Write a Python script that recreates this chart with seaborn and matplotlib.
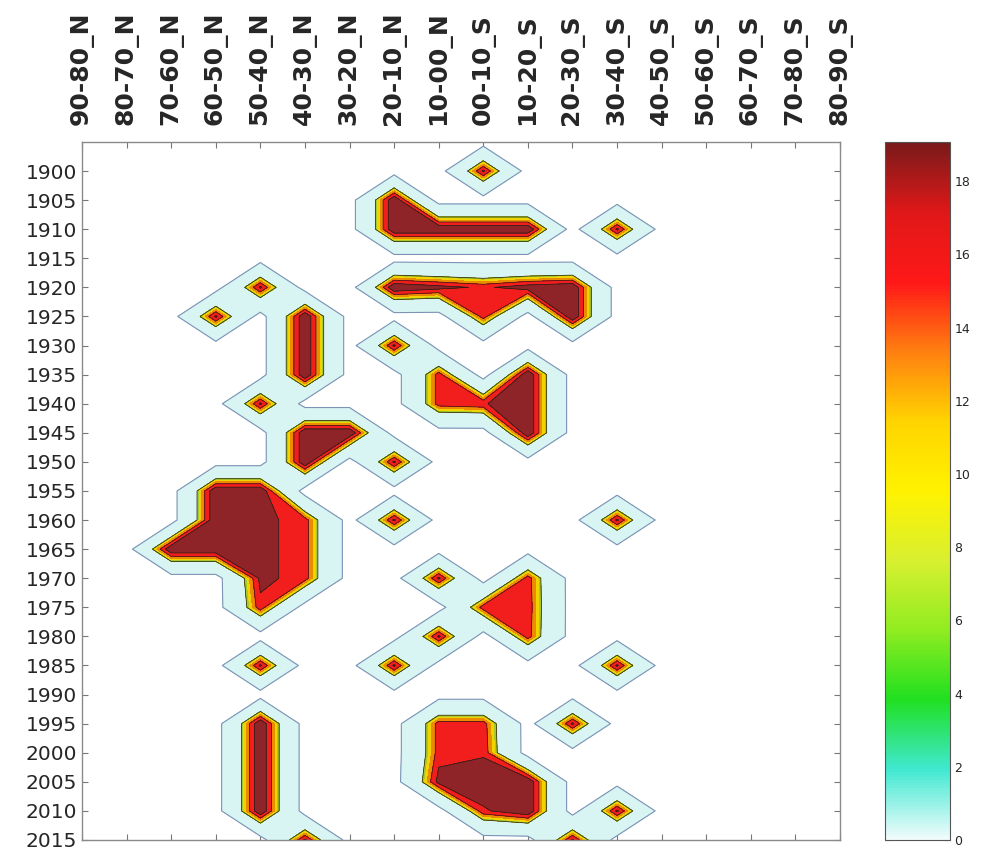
import numpy as np
import matplotlib
matplotlib.use("Agg")
import matplotlib.pyplot as plt
import seaborn as sns

# latitude bands (x) and 5-year bins (y); 1895 is an empty padding row
bands = ["90-80_N", "80-70_N", "70-60_N", "60-50_N", "50-40_N", "40-30_N",
         "30-20_N", "20-10_N", "10-00_N", "00-10_S", "10-20_S", "20-30_S",
         "30-40_S", "40-50_S", "50-60_S", "60-70_S", "70-80_S", "80-90_S"]
years = [1895, 1900, 1905, 1910, 1915, 1920, 1925, 1930, 1935, 1940, 1945, 1950,
         1955, 1960, 1965, 1970, 1975, 1980, 1985, 1990, 1995, 2000, 2005, 2010, 2015]
year_ticks = years[1:]

# non-zero cells (everything else is 0)
event_year = [1900,
              1905, 1910, 1910, 1910, 1910, 1910,
              1920, 1920, 1920, 1920, 1920, 1920, 1925, 1925, 1925, 1925,
              1930, 1930, 1935,
              1935, 1940, 1940, 1935, 1940, 1945, 1940,
              1945, 1945, 1950, 1950,
              1955, 1955, 1960, 1960, 1960, 1965, 1965, 1965, 1965, 1970, 1970, 1975,
              1960, 1960, 1970,
              1970, 1975, 1975, 1980, 1980,
              1985, 1985, 1985,
              1995, 2000, 2005, 2010,
              1995, 1995, 2000, 2000, 2005, 2005, 2005, 2010, 2010,
              1995, 2010, 2015, 2015]
event_band = ["00-10_S",
              "20-10_N", "20-10_N", "10-00_N", "00-10_S", "10-20_S", "30-40_S",
              "50-40_N", "20-10_N", "10-00_N", "00-10_S", "10-20_S", "20-30_S",
              "60-50_N", "40-30_N", "00-10_S", "20-30_S",
              "40-30_N", "20-10_N", "40-30_N",
              "10-00_N", "10-00_N", "00-10_S", "10-20_S", "10-20_S", "10-20_S", "50-40_N",
              "40-30_N", "30-20_N", "40-30_N", "20-10_N",
              "60-50_N", "50-40_N", "60-50_N", "50-40_N", "40-30_N",
              "70-60_N", "60-50_N", "50-40_N", "40-30_N", "50-40_N", "40-30_N", "50-40_N",
              "20-10_N", "30-40_S", "10-00_N",
              "10-20_S", "00-10_S", "10-20_S", "10-20_S", "10-00_N",
              "50-40_N", "20-10_N", "30-40_S",
              "50-40_N", "50-40_N", "50-40_N", "50-40_N",
              "10-00_N", "00-10_S", "10-00_N", "00-10_S", "10-00_N", "00-10_S", "10-20_S",
              "00-10_S", "10-20_S",
              "20-30_S", "30-40_S", "40-30_N", "20-30_S"]
event_value = [17,
               19, 19, 19, 19, 19, 17,
               17, 19, 17.5, 16, 18, 19,
               17, 19, 15.5, 19,
               19, 17, 19,
               15.5, 15.5, 16.2, 19, 19, 19, 17,
               19, 19, 19, 17,
               19, 19, 19, 17.2, 15.5,
               19, 19, 17.2, 15.5, 17.2, 15.5, 15.8,
               17, 17, 17,
               15.5, 15.5, 15.8, 15.5, 17,
               17, 17, 17,
               19, 19, 19, 19,
               15.5, 15.5, 15.5, 16, 17.5, 19, 19,
               16, 19,
               17, 17, 17, 17]

grid = np.zeros((len(years), len(bands)))
for y, b, v in zip(event_year, event_band, event_value):
    grid[years.index(y), bands.index(b)] = v

sns.set_style("white")
plt.rcParams["font.family"] = ["DejaVu Sans"]

# filled bands and colorbar colours
levels = [2.5, 11, 12, 13, 14.3, 16.5, 20]
band_colors = ["#d8f5f3", "#a8c82c", "#f0d400", "#ec8a00", "#f21d1d", "#8e2428"]
cbar_cmap = sns.blend_palette(["#f0fcfc", "#40e8d0", "#20e020", "#90ec20", "#d8f030",
                               "#fff200", "#ffd400", "#ff8010", "#ff1818", "#e01818",
                               "#7a1a1a"], as_cmap=True)

fig = plt.figure(figsize=(9.81, 8.52), dpi=100)
ax = fig.add_axes([0.0836, 0.0141, 0.7727, 0.8193])
cax = fig.add_axes([0.902, 0.0141, 0.066, 0.8193])

x = np.arange(len(bands))
ax.contourf(x, years, grid, levels=levels, colors=band_colors)
ax.contour(x, years, grid, levels=levels[:1], colors="#7d92b5", linewidths=0.8)
ax.contour(x, years, grid, levels=[11, 14.3, 16.5], colors="#2a1a10", linewidths=0.5)

ax.set_xlim(0, len(bands) - 1)
ax.set_ylim(2015, 1895)
ax.set_xticks(x)
ax.set_xticklabels(bands, rotation=90, fontsize=18, fontweight="bold")
ax.set_yticks(year_ticks)
ax.set_yticklabels([str(y) for y in year_ticks], fontsize=14.5)
ax.tick_params(direction="in", top=True, bottom=True, left=True, right=True,
               labeltop=True, labelbottom=False, length=4, color="#777777")
ax.tick_params(axis="x", pad=12)
for s in ax.spines.values():
    s.set_color("#8a8a8a")
    s.set_linewidth(1.0)

sm = plt.cm.ScalarMappable(cmap=cbar_cmap, norm=plt.Normalize(0, 19.07))
cb = fig.colorbar(sm, cax=cax, ticks=[0, 2, 4, 6, 8, 10, 12, 14, 16, 18])
cax.tick_params(direction="in", left=True, right=True, length=4, labelsize=9, color="#555555")
cb.outline.set_edgecolor("#555555")
cb.outline.set_linewidth(0.8)

fig.savefig("out.png", dpi=100)
